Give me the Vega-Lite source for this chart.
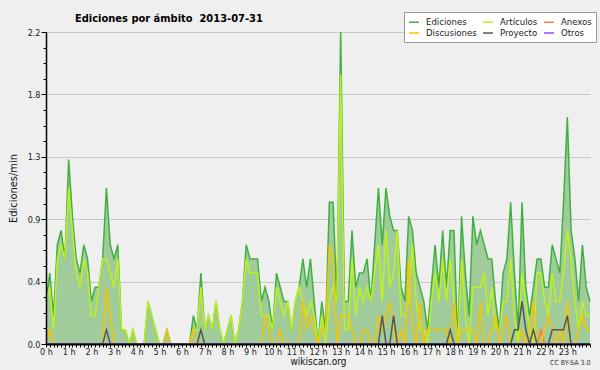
{
  "$schema": "https://vega.github.io/schema/vega-lite/v6.json",
  "width": 544,
  "height": 312,
  "autosize": {"type": "none"},
  "padding": {"left": 46, "top": 32, "right": 10, "bottom": 26},
  "background": "#efefef",
  "config": {
    "view": {"stroke": null},
    "font": "DejaVu Sans Condensed",
    "axis": {"labelFont": "DejaVu Sans Condensed", "titleFont": "DejaVu Sans Condensed", "labelColor": "#222", "titleColor": "#111", "domainColor": "#000", "tickColor": "#000", "titleFontWeight": "normal"},
    "legend": {"labelFont": "DejaVu Sans Condensed"}
  },
  "title": {"text": "Ediciones por ámbito \u00a02013-07-31", "anchor": "start", "frame": "group", "dx": 29, "dy": 20, "offset": 8, "fontSize": 11, "font": "DejaVu Sans Condensed", "fontWeight": "bold", "color": "#000"},
  "data": {"values": [
    {"m":0,"e":0.3,"a":0.3,"x":0,"d":0,"p":0,"o":0},
    {"m":10,"e":0.5,"a":0.4,"x":0,"d":0.1,"p":0,"o":0},
    {"m":20,"e":0.2,"a":0.1,"x":0,"d":0,"p":0,"o":0},
    {"m":30,"e":0.7,"a":0.6,"x":0,"d":0,"p":0,"o":0},
    {"m":40,"e":0.8,"a":0.7,"x":0,"d":0,"p":0,"o":0},
    {"m":50,"e":0.6,"a":0.6,"x":0,"d":0,"p":0,"o":0},
    {"m":60,"e":1.3,"a":1.1,"x":0,"d":0,"p":0,"o":0},
    {"m":70,"e":0.9,"a":0.8,"x":0,"d":0,"p":0,"o":0},
    {"m":80,"e":0.6,"a":0.5,"x":0,"d":0,"p":0,"o":0},
    {"m":90,"e":0.5,"a":0.4,"x":0,"d":0,"p":0,"o":0},
    {"m":100,"e":0.7,"a":0.6,"x":0,"d":0,"p":0,"o":0},
    {"m":110,"e":0.6,"a":0.5,"x":0,"d":0,"p":0,"o":0},
    {"m":120,"e":0.3,"a":0.2,"x":0,"d":0,"p":0,"o":0},
    {"m":130,"e":0.4,"a":0.2,"x":0,"d":0,"p":0,"o":0},
    {"m":140,"e":0.4,"a":0.4,"x":0,"d":0,"p":0,"o":0},
    {"m":150,"e":0.6,"a":0.6,"x":0,"d":0,"p":0,"o":0},
    {"m":160,"e":1.1,"a":0.6,"x":0,"d":0.4,"p":0.1,"o":0},
    {"m":170,"e":0.7,"a":0.5,"x":0,"d":0.2,"p":0,"o":0},
    {"m":180,"e":0.6,"a":0.4,"x":0,"d":0,"p":0,"o":0},
    {"m":190,"e":0.7,"a":0.6,"x":0,"d":0,"p":0,"o":0},
    {"m":200,"e":0.1,"a":0.1,"x":0,"d":0,"p":0,"o":0},
    {"m":210,"e":0.1,"a":0.1,"x":0,"d":0,"p":0,"o":0},
    {"m":220,"e":0,"a":0,"x":0,"d":0,"p":0,"o":0},
    {"m":230,"e":0.1,"a":0.1,"x":0,"d":0,"p":0,"o":0},
    {"m":240,"e":0,"a":0,"x":0,"d":0,"p":0,"o":0},
    {"m":250,"e":0,"a":0,"x":0,"d":0,"p":0,"o":0},
    {"m":260,"e":0,"a":0,"x":0,"d":0,"p":0,"o":0},
    {"m":270,"e":0.3,"a":0.3,"x":0,"d":0,"p":0,"o":0},
    {"m":280,"e":0.2,"a":0.2,"x":0,"d":0,"p":0,"o":0},
    {"m":290,"e":0.1,"a":0.1,"x":0,"d":0,"p":0,"o":0},
    {"m":300,"e":0,"a":0,"x":0,"d":0,"p":0,"o":0},
    {"m":310,"e":0,"a":0,"x":0,"d":0,"p":0,"o":0},
    {"m":320,"e":0.1,"a":0,"x":0,"d":0.1,"p":0,"o":0},
    {"m":330,"e":0,"a":0,"x":0,"d":0,"p":0,"o":0},
    {"m":340,"e":0,"a":0,"x":0,"d":0,"p":0,"o":0},
    {"m":350,"e":0,"a":0,"x":0,"d":0,"p":0,"o":0},
    {"m":360,"e":0,"a":0,"x":0,"d":0,"p":0,"o":0},
    {"m":370,"e":0,"a":0,"x":0,"d":0,"p":0,"o":0},
    {"m":380,"e":0,"a":0,"x":0,"d":0,"p":0,"o":0},
    {"m":390,"e":0.2,"a":0.1,"x":0,"d":0.1,"p":0,"o":0},
    {"m":400,"e":0.1,"a":0.1,"x":0,"d":0,"p":0,"o":0},
    {"m":410,"e":0.5,"a":0.4,"x":0,"d":0,"p":0.1,"o":0},
    {"m":420,"e":0.1,"a":0.1,"x":0,"d":0,"p":0,"o":0},
    {"m":430,"e":0.2,"a":0.2,"x":0,"d":0,"p":0,"o":0},
    {"m":440,"e":0.1,"a":0.1,"x":0,"d":0,"p":0,"o":0},
    {"m":450,"e":0.3,"a":0.3,"x":0,"d":0,"p":0,"o":0},
    {"m":460,"e":0.1,"a":0.1,"x":0,"d":0,"p":0,"o":0},
    {"m":470,"e":0,"a":0,"x":0,"d":0,"p":0,"o":0},
    {"m":480,"e":0.1,"a":0.1,"x":0,"d":0,"p":0,"o":0},
    {"m":490,"e":0.2,"a":0.2,"x":0,"d":0,"p":0,"o":0},
    {"m":500,"e":0,"a":0,"x":0,"d":0,"p":0,"o":0},
    {"m":510,"e":0.1,"a":0.1,"x":0,"d":0,"p":0,"o":0},
    {"m":520,"e":0.3,"a":0.3,"x":0,"d":0,"p":0,"o":0},
    {"m":530,"e":0.7,"a":0.6,"x":0,"d":0,"p":0,"o":0},
    {"m":540,"e":0.6,"a":0.5,"x":0,"d":0,"p":0,"o":0},
    {"m":550,"e":0.6,"a":0.5,"x":0,"d":0,"p":0,"o":0},
    {"m":560,"e":0.6,"a":0.5,"x":0,"d":0,"p":0,"o":0},
    {"m":570,"e":0.3,"a":0.2,"x":0,"d":0,"p":0,"o":0},
    {"m":580,"e":0.4,"a":0.2,"x":0,"d":0.2,"p":0,"o":0},
    {"m":590,"e":0.3,"a":0.2,"x":0,"d":0.1,"p":0,"o":0},
    {"m":600,"e":0.1,"a":0.1,"x":0,"d":0,"p":0,"o":0},
    {"m":610,"e":0.5,"a":0.4,"x":0,"d":0,"p":0,"o":0},
    {"m":620,"e":0.4,"a":0.3,"x":0,"d":0.1,"p":0,"o":0},
    {"m":630,"e":0.3,"a":0.2,"x":0,"d":0,"p":0,"o":0},
    {"m":640,"e":0.3,"a":0.3,"x":0,"d":0,"p":0,"o":0},
    {"m":650,"e":0.1,"a":0.1,"x":0,"d":0,"p":0,"o":0},
    {"m":660,"e":0.3,"a":0.3,"x":0,"d":0,"p":0,"o":0},
    {"m":670,"e":0.4,"a":0.4,"x":0,"d":0,"p":0,"o":0},
    {"m":680,"e":0.6,"a":0.3,"x":0,"d":0.3,"p":0,"o":0},
    {"m":690,"e":0.4,"a":0.2,"x":0,"d":0.1,"p":0,"o":0},
    {"m":700,"e":0.6,"a":0.3,"x":0,"d":0.2,"p":0,"o":0},
    {"m":710,"e":0.3,"a":0.2,"x":0,"d":0.1,"p":0,"o":0},
    {"m":720,"e":0,"a":0,"x":0,"d":0,"p":0,"o":0},
    {"m":730,"e":0.3,"a":0.2,"x":0,"d":0.1,"p":0,"o":0},
    {"m":740,"e":0.1,"a":0,"x":0,"d":0.1,"p":0,"o":0},
    {"m":750,"e":1.0,"a":0.3,"x":0,"d":0.7,"p":0,"o":0},
    {"m":760,"e":1.0,"a":0.4,"x":0,"d":0.6,"p":0,"o":0},
    {"m":770,"e":0.3,"a":0.3,"x":0,"d":0,"p":0,"o":0},
    {"m":780,"e":2.2,"a":1.9,"x":0,"d":0.2,"p":0,"o":0},
    {"m":790,"e":0.3,"a":0.1,"x":0,"d":0.2,"p":0,"o":0},
    {"m":800,"e":0.3,"a":0.1,"x":0,"d":0.2,"p":0,"o":0},
    {"m":810,"e":0.8,"a":0.6,"x":0,"d":0.1,"p":0,"o":0},
    {"m":820,"e":0.4,"a":0.2,"x":0,"d":0,"p":0,"o":0},
    {"m":830,"e":0.5,"a":0.4,"x":0,"d":0,"p":0,"o":0},
    {"m":840,"e":0.5,"a":0.3,"x":0,"d":0.1,"p":0,"o":0},
    {"m":850,"e":0.6,"a":0.4,"x":0,"d":0.1,"p":0,"o":0},
    {"m":860,"e":0.3,"a":0.3,"x":0,"d":0,"p":0,"o":0},
    {"m":870,"e":0.7,"a":0.5,"x":0,"d":0,"p":0,"o":0},
    {"m":880,"e":1.1,"a":0.7,"x":0,"d":0.2,"p":0,"o":0},
    {"m":890,"e":0.7,"a":0.3,"x":0,"d":0.1,"p":0.2,"o":0},
    {"m":900,"e":1.1,"a":0.8,"x":0,"d":0.2,"p":0,"o":0},
    {"m":910,"e":0.9,"a":0.4,"x":0,"d":0.3,"p":0,"o":0},
    {"m":920,"e":0.8,"a":0.5,"x":0,"d":0.1,"p":0.2,"o":0},
    {"m":930,"e":0.8,"a":0.8,"x":0,"d":0,"p":0,"o":0},
    {"m":940,"e":0.4,"a":0.2,"x":0,"d":0.1,"p":0,"o":0},
    {"m":950,"e":0.3,"a":0.2,"x":0,"d":0,"p":0,"o":0},
    {"m":960,"e":0.9,"a":0.3,"x":0,"d":0.6,"p":0,"o":0},
    {"m":970,"e":0.8,"a":0.7,"x":0,"d":0.1,"p":0,"o":0},
    {"m":980,"e":0.5,"a":0.3,"x":0,"d":0,"p":0,"o":0},
    {"m":990,"e":0.4,"a":0.1,"x":0,"d":0.3,"p":0,"o":0},
    {"m":1000,"e":0.3,"a":0.1,"x":0,"d":0,"p":0,"o":0},
    {"m":1010,"e":0.1,"a":0,"x":0,"d":0.1,"p":0,"o":0},
    {"m":1020,"e":0.4,"a":0.3,"x":0,"d":0.1,"p":0,"o":0},
    {"m":1030,"e":0.7,"a":0.5,"x":0,"d":0.1,"p":0,"o":0},
    {"m":1040,"e":0.4,"a":0.3,"x":0,"d":0.1,"p":0,"o":0},
    {"m":1050,"e":0.8,"a":0.6,"x":0,"d":0.1,"p":0,"o":0},
    {"m":1060,"e":0.4,"a":0.3,"x":0,"d":0.1,"p":0,"o":0},
    {"m":1070,"e":0.8,"a":0.6,"x":0,"d":0,"p":0.1,"o":0},
    {"m":1080,"e":0.8,"a":0.3,"x":0,"d":0.3,"p":0,"o":0},
    {"m":1090,"e":0,"a":0,"x":0,"d":0,"p":0,"o":0},
    {"m":1100,"e":0.9,"a":0.6,"x":0,"d":0.1,"p":0,"o":0},
    {"m":1110,"e":0.5,"a":0.2,"x":0,"d":0.1,"p":0,"o":0},
    {"m":1120,"e":0.2,"a":0,"x":0,"d":0.1,"p":0,"o":0},
    {"m":1130,"e":0.9,"a":0.4,"x":0,"d":0.1,"p":0,"o":0},
    {"m":1140,"e":0.7,"a":0.4,"x":0,"d":0,"p":0,"o":0},
    {"m":1150,"e":0.8,"a":0.4,"x":0,"d":0.3,"p":0,"o":0},
    {"m":1160,"e":0.7,"a":0.5,"x":0,"d":0,"p":0,"o":0},
    {"m":1170,"e":0.6,"a":0.2,"x":0,"d":0,"p":0,"o":0},
    {"m":1180,"e":0.6,"a":0.4,"x":0,"d":0.1,"p":0,"o":0},
    {"m":1190,"e":0.3,"a":0.1,"x":0,"d":0.2,"p":0,"o":0},
    {"m":1200,"e":0.1,"a":0.1,"x":0,"d":0,"p":0,"o":0},
    {"m":1210,"e":0.5,"a":0.3,"x":0,"d":0.1,"p":0,"o":0},
    {"m":1220,"e":0.6,"a":0.3,"x":0,"d":0.2,"p":0,"o":0},
    {"m":1230,"e":1.0,"a":0.6,"x":0,"d":0,"p":0,"o":0},
    {"m":1240,"e":0.5,"a":0.2,"x":0,"d":0,"p":0.1,"o":0},
    {"m":1250,"e":0.1,"a":0,"x":0,"d":0,"p":0.1,"o":0},
    {"m":1260,"e":1.0,"a":0.5,"x":0,"d":0.1,"p":0.3,"o":0},
    {"m":1270,"e":0.4,"a":0.3,"x":0,"d":0,"p":0.1,"o":0},
    {"m":1280,"e":0.2,"a":0.1,"x":0,"d":0.1,"p":0,"o":0},
    {"m":1290,"e":0.4,"a":0,"x":0,"d":0.3,"p":0.1,"o":0},
    {"m":1300,"e":0.6,"a":0.5,"x":0,"d":0,"p":0,"o":0},
    {"m":1310,"e":0.6,"a":0.5,"x":0.1,"d":0,"p":0,"o":0},
    {"m":1320,"e":0.4,"a":0.3,"x":0,"d":0.1,"p":0,"o":0},
    {"m":1330,"e":0.4,"a":0.2,"x":0,"d":0.2,"p":0,"o":0},
    {"m":1340,"e":0.7,"a":0.5,"x":0,"d":0.1,"p":0.1,"o":0},
    {"m":1350,"e":0.6,"a":0.3,"x":0,"d":0,"p":0.1,"o":0},
    {"m":1360,"e":0.5,"a":0.3,"x":0,"d":0.1,"p":0.1,"o":0},
    {"m":1370,"e":1.0,"a":0.5,"x":0,"d":0,"p":0.1,"o":0},
    {"m":1380,"e":1.6,"a":0.8,"x":0,"d":0.3,"p":0.2,"o":0},
    {"m":1390,"e":0.8,"a":0.6,"x":0,"d":0,"p":0,"o":0},
    {"m":1400,"e":0.6,"a":0.3,"x":0,"d":0,"p":0,"o":0},
    {"m":1410,"e":0.3,"a":0.1,"x":0,"d":0.1,"p":0,"o":0},
    {"m":1420,"e":0.7,"a":0.3,"x":0,"d":0.2,"p":0,"o":0},
    {"m":1430,"e":0.4,"a":0.2,"x":0,"d":0.1,"p":0,"o":0},
    {"m":1440,"e":0.3,"a":0.2,"x":0,"d":0.1,"p":0,"o":0}
  ]},
  "resolve": {"axis": {"x": "independent", "y": "independent"}},
  "layer": [
    {
      "mark": {"type": "area", "color": "#a0cc9c"},
      "encoding": {
        "x": {"field": "m", "type": "quantitative", "scale": {"domain": [0, 1440], "nice": false, "zero": false},
          "axis": {"orient": "bottom", "zindex": 1, "tickCount": 144, "grid": false, "domainWidth": 2, "tickSize": 3, "labelPadding": 0, "labelFontSize": 9, "labelOverlap": false, "labelFlush": false,
            "labelExpr": "datum.value % 60 === 0 && datum.value < 1440 ? (datum.value / 60) + ' h' : ''",
            "title": "wikiscan.org", "titleFontSize": 10, "titlePadding": 0}},
        "y": {"field": "e", "type": "quantitative", "scale": {"domain": [0, 2.2], "nice": false},
          "axis": {"orient": "left", "values": [0, 0.44, 0.88, 1.32, 1.76, 2.2], "format": ".1f",
            "tickSize": 5, "grid": true, "gridColor": "#c8c8c8", "labelFontSize": 9, "labelPadding": 1, "labelOverlap": false, "labelFlush": false,
            "domain": false, "zindex": 0, "title": "Ediciones/min", "titleFontSize": 11, "titlePadding": 9}}
      }
    },
    {
      "mark": {"type": "line", "strokeWidth": 1.5},
      "encoding": {
        "x": {"field": "m", "type": "quantitative", "axis": {"orient": "top", "domain": false, "ticks": false, "labels": false, "grid": false, "title": "CC BY-SA 3.0", "titleFontSize": 7, "titleColor": "#333", "titleAnchor": "end", "titleAlign": "right", "titleBaseline": "middle", "titleX": 544, "titleY": 330}},
        "y": {"field": "e", "type": "quantitative",
          "axis": {"orient": "left", "values": [0, 0.11, 0.22, 0.33, 0.44, 0.55, 0.66, 0.77, 0.88, 0.99, 1.1, 1.21, 1.32, 1.43, 1.54, 1.65, 1.76, 1.87, 1.98, 2.09, 2.2],
            "tickSize": 3, "labels": false, "grid": false, "domain": true, "domainWidth": 1.5, "title": null, "zindex": 1}},
        "color": {"datum": "Ediciones", "type": "nominal",
          "scale": {"domain": ["Ediciones", "Artículos", "Anexos", "Discusiones", "Proyecto", "Otros"], "range": ["#40b040", "#c0f020", "#ff7f40", "#f8c400", "#555555", "#9944ff"]},
          "legend": {"orient": "none", "legendX": 358, "legendY": -20, "direction": "horizontal", "columns": 3, "title": null, "fillColor": "#ffffff", "strokeColor": "#999999", "padding": 4, "symbolType": "stroke", "symbolSize": 100, "symbolStrokeWidth": 1.5, "labelFontSize": 9.5, "labelColor": "#222", "columnPadding": 3, "rowPadding": -3, "labelOffset": 6, "zindex": 2}}
      }
    },
    {
      "mark": {"type": "line", "strokeWidth": 1.5},
      "encoding": {
        "x": {"field": "m", "type": "quantitative", "axis": null},
        "y": {"field": "a", "type": "quantitative", "axis": null},
        "color": {"datum": "Artículos", "type": "nominal"}
      }
    },
    {
      "mark": {"type": "line", "strokeWidth": 1.5},
      "encoding": {
        "x": {"field": "m", "type": "quantitative", "axis": null},
        "y": {"field": "x", "type": "quantitative", "axis": null},
        "color": {"datum": "Anexos", "type": "nominal"}
      }
    },
    {
      "mark": {"type": "line", "strokeWidth": 1.5},
      "encoding": {
        "x": {"field": "m", "type": "quantitative", "axis": null},
        "y": {"field": "d", "type": "quantitative", "axis": null},
        "color": {"datum": "Discusiones", "type": "nominal"}
      }
    },
    {
      "mark": {"type": "line", "strokeWidth": 1.5},
      "encoding": {
        "x": {"field": "m", "type": "quantitative", "axis": null},
        "y": {"field": "p", "type": "quantitative", "axis": null},
        "color": {"datum": "Proyecto", "type": "nominal"}
      }
    },
    {
      "mark": {"type": "line", "strokeWidth": 1.5},
      "encoding": {
        "x": {"field": "m", "type": "quantitative", "axis": null},
        "y": {"field": "o", "type": "quantitative", "axis": null},
        "color": {"datum": "Otros", "type": "nominal"}
      }
    }
  ]
}
